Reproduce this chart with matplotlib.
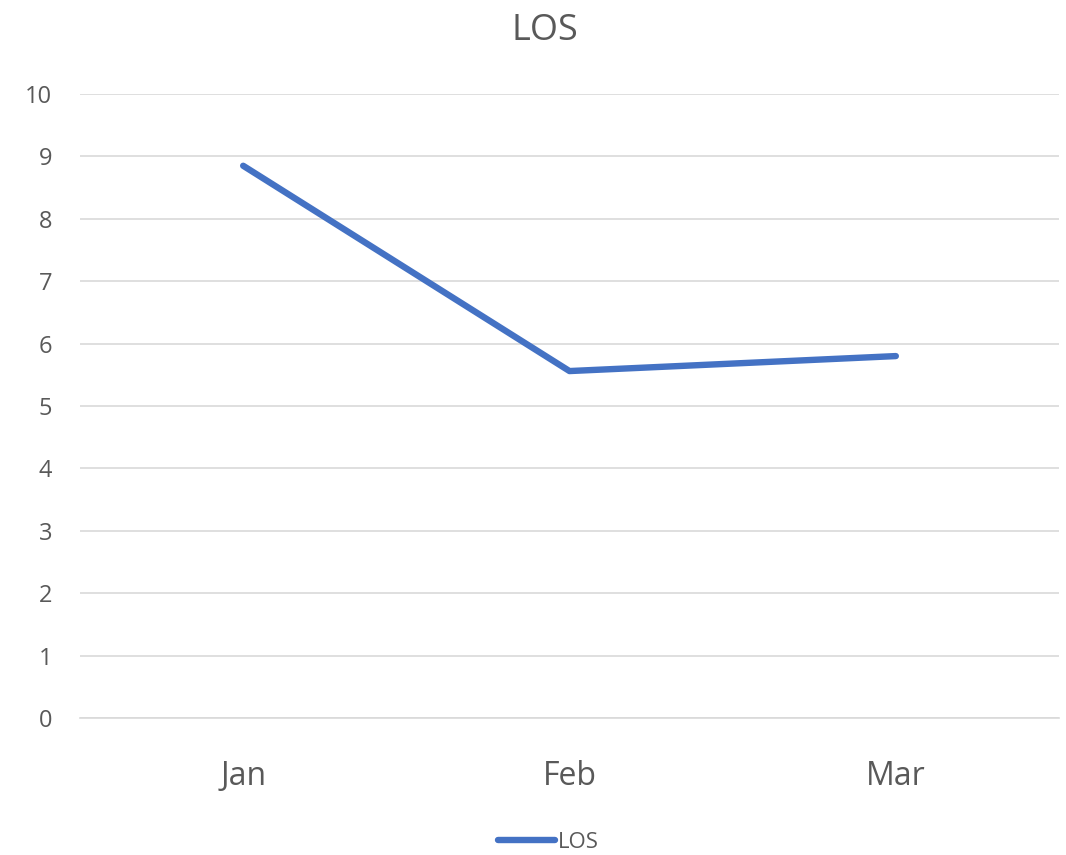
import matplotlib.pyplot as plt

months = ['Jan', 'Feb', 'Mar']
los = [8.85, 5.56, 5.80]
y_ticks = list(range(0, 11))

plt.rcParams['font.family'] = ['Open Sans', 'DejaVu Sans']

fig = plt.figure(figsize=(10.66, 8.55), dpi=100)
ax = fig.add_axes([80 / 1066, 1 - 718 / 855, (1059 - 80) / 1066, (718 - 94) / 855])

x = list(range(len(months)))
ax.plot(x, los, color='#4472C4', linewidth=4.6, solid_capstyle='round', label='LOS')

ax.set_xlim(-0.5, len(months) - 0.5)
ax.set_ylim(0, 10)
ax.set_yticks(y_ticks)
ax.set_xticks(x)
ax.set_xticklabels(months)
ax.grid(axis='y', color='#D9D9D9', linewidth=1.2)
ax.set_axisbelow(True)
for s in ['top', 'right', 'left']:
    ax.spines[s].set_visible(False)
ax.spines['bottom'].set_color('#D9D9D9')
ax.spines['bottom'].set_linewidth(1.2)
ax.tick_params(axis='y', length=0, labelsize=17, labelcolor='#595959', pad=20)
ax.tick_params(axis='x', length=0, labelsize=23, labelcolor='#595959', pad=30)

fig.text(545 / 1066, 1 - 31 / 855, 'LOS', ha='center', va='center', fontsize=26, color='#595959')

leg = fig.legend(loc='center', bbox_to_anchor=(548 / 1066, 1 - 842 / 855), frameon=False,
                 fontsize=16, handlelength=2.6, handletextpad=0.1)
for t in leg.get_texts():
    t.set_color('#595959')

fig.savefig('out.png', dpi=100)
